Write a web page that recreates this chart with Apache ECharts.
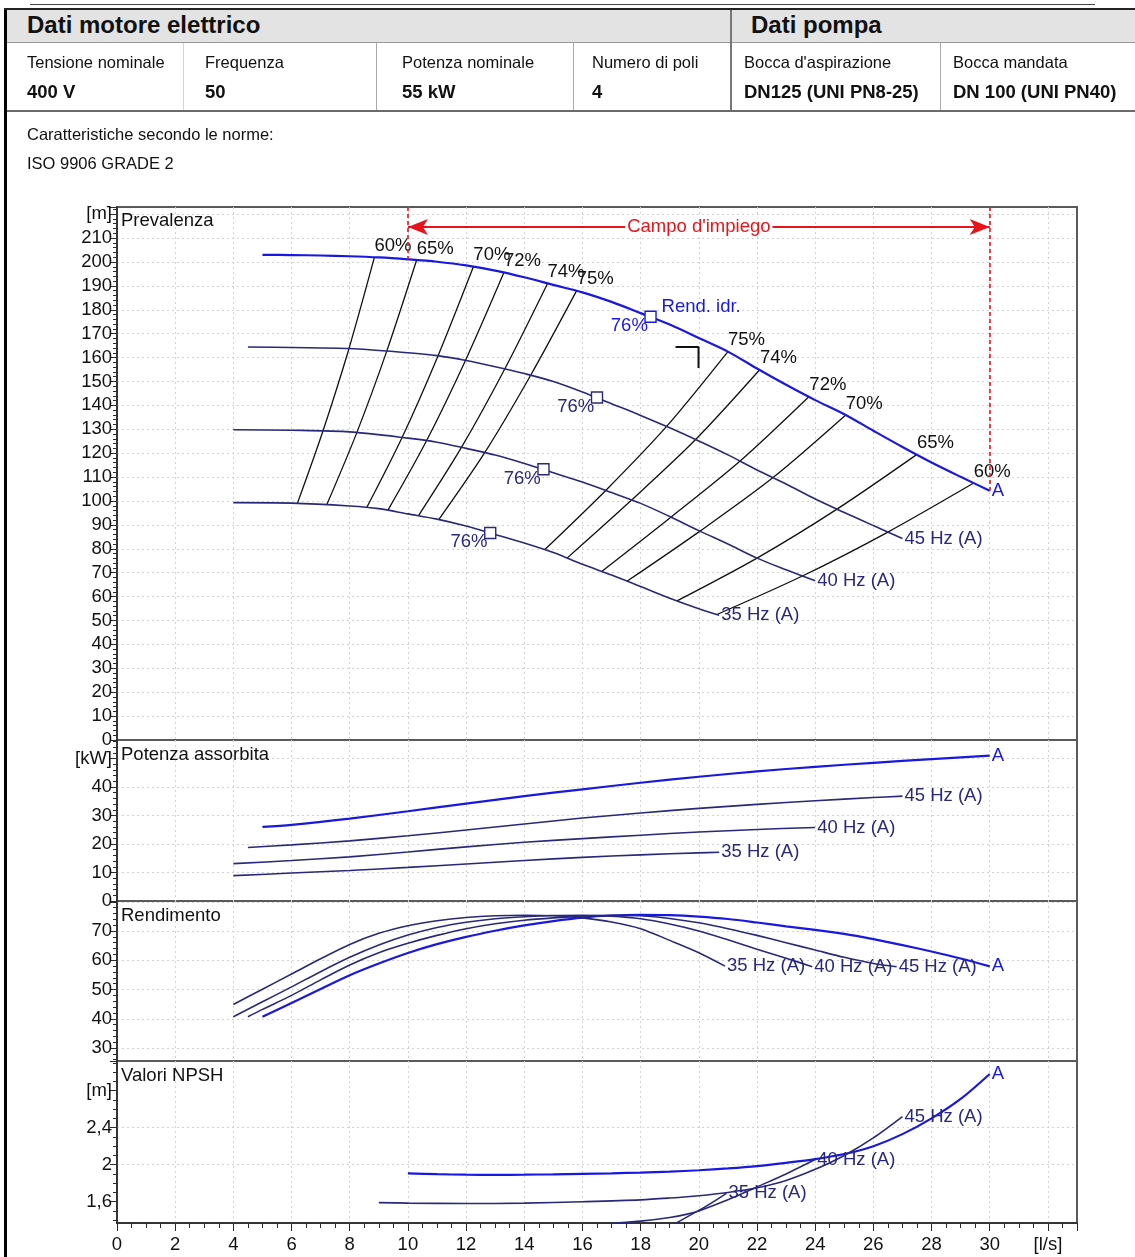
<!DOCTYPE html>
<html>
<head>
<meta charset="utf-8">
<script src="https://cdn.jsdelivr.net/npm/echarts@6/dist/echarts.min.js"></script>
<style>
  html, body { margin: 0; padding: 0; background: #fff; }
  body { width: 1135px; height: 1257px; position: relative; overflow: hidden;
         font-family: 'Liberation Sans', Arial, sans-serif; color: #111; }
  #chart { position: absolute; left: 0; top: 0; width: 1135px; height: 1257px; }
  #hdr { position: absolute; left: 0; top: 0; width: 1135px; height: 180px; z-index: 2; pointer-events: none; }
  .r { position: absolute; }
  .t { position: absolute; white-space: nowrap; line-height: 1.15; }
  .h1 { font-size: 24px; font-weight: bold; top: 11px; }
  .lb { font-size: 16.5px; top: 53px; }
  .vl { font-size: 18.5px; font-weight: bold; top: 81px; }
  .nt { font-size: 16.5px; left: 27px; }
</style>
</head>
<body>
<div id="chart"></div>
<div id="hdr">
  <div class="r" style="left:30px;top:4px;width:1065px;height:1px;background:#444"></div>
  <div class="r" style="left:4px;top:8px;width:3px;height:1249px;background:#000"></div>
  <div class="r" style="left:4px;top:8px;width:1131px;height:2px;background:#222"></div>
  <div class="r" style="left:7px;top:10px;width:1128px;height:32px;background:#e3e3e3"></div>
  <div class="r" style="left:7px;top:42px;width:1128px;height:1px;background:#999"></div>
  <div class="r" style="left:7px;top:110px;width:1128px;height:2px;background:#6b6b6b"></div>
  <div class="r" style="left:730px;top:10px;width:2px;height:100px;background:#777"></div>
  <div class="r" style="left:183px;top:43px;width:1px;height:67px;background:#d4d4d4"></div>
  <div class="r" style="left:376px;top:43px;width:1px;height:67px;background:#aaa"></div>
  <div class="r" style="left:573px;top:43px;width:1px;height:67px;background:#aaa"></div>
  <div class="r" style="left:940px;top:43px;width:1px;height:67px;background:#aaa"></div>

  <div class="t h1" style="left:27px">Dati motore elettrico</div>
  <div class="t h1" style="left:751px">Dati pompa</div>

  <div class="t lb" style="left:27px">Tensione nominale</div>
  <div class="t lb" style="left:205px">Frequenza</div>
  <div class="t lb" style="left:402px">Potenza nominale</div>
  <div class="t lb" style="left:592px">Numero di poli</div>
  <div class="t lb" style="left:744px">Bocca d'aspirazione</div>
  <div class="t lb" style="left:953px">Bocca mandata</div>

  <div class="t vl" style="left:27px">400 V</div>
  <div class="t vl" style="left:205px">50</div>
  <div class="t vl" style="left:402px">55 kW</div>
  <div class="t vl" style="left:592px">4</div>
  <div class="t vl" style="left:744px">DN125 (UNI PN8-25)</div>
  <div class="t vl" style="left:953px">DN 100 (UNI PN40)</div>

  <div class="t nt" style="top:125px">Caratteristiche secondo le norme:</div>
  <div class="t nt" style="top:154px">ISO 9906 GRADE 2</div>
</div>

<script>
// portata [l/s] e prevalenza [m]
const prevQ50 = [5, 6, 7, 8, 9, 10, 11, 12, 13, 14, 15, 16, 17, 18, 19, 20, 21, 22, 23, 24, 25, 26, 27, 28, 29, 30];
const prevH50 = [203.0, 202.9, 202.7, 202.4, 201.9, 201.1, 200.1, 198.6, 196.4, 193.6, 190.4, 187.3, 183.3, 178.6, 173.8, 168.2, 162.5, 155.4, 148.6, 142.2, 136.3, 129.4, 122.6, 116.1, 110.1, 104.3];
const prevQ45 = [4.5, 6, 8, 10, 11, 12, 13, 14, 15, 16, 17, 18, 19, 20, 21, 22, 23, 24, 25, 26, 27];
const prevH45 = [164.4, 164.2, 163.8, 162.0, 160.8, 158.8, 156.2, 153.3, 150.0, 145.6, 140.7, 135.8, 130.6, 125.1, 119.3, 113.0, 107.1, 100.8, 95.2, 89.7, 84.3];
const prevQ40 = [4, 6, 8, 10, 11, 12, 13, 14, 15, 16, 17, 18, 19, 20, 21, 22, 23, 24];
const prevH40 = [129.8, 129.6, 128.9, 126.3, 124.6, 122.0, 119.2, 115.7, 111.8, 107.9, 103.5, 99.0, 93.5, 87.6, 82.0, 76.1, 71.2, 66.6];
const prevQ35 = [4, 6, 8, 9, 10, 11, 12, 13, 14, 15, 16, 17, 18, 19, 20, 20.7];
const prevH35 = [99.3, 99.1, 97.9, 96.8, 94.6, 92.4, 89.5, 86.0, 82.4, 78.4, 73.5, 69.0, 64.2, 59.3, 54.9, 52.2];

// curve di isorendimento (punti su 50 / 45 / 40 / 35 Hz)
const isoNames = ['60%', '65%', '70%', '72%', '74%', '75%', '75%', '74%', '72%', '70%', '65%', '60%'];
const isoQ = [
    [8.85, 7.97, 7.08, 6.2],
    [10.3, 9.27, 8.24, 7.21],
    [12.25, 11.03, 9.8, 8.58],
    [13.3, 11.97, 10.64, 9.31],
    [14.8, 13.32, 11.84, 10.36],
    [15.8, 14.22, 12.64, 11.06],
    [21.0, 18.9, 16.8, 14.7],
    [22.1, 19.89, 17.68, 15.47],
    [23.8, 21.42, 19.04, 16.66],
    [25.05, 22.55, 20.04, 17.54],
    [27.5, 24.75, 22.0, 19.25],
    [29.45, 26.5, 23.56, 20.62]
];
const isoH = [
    [202.0, 163.6, 129.3, 99.0],
    [200.8, 162.6, 128.5, 98.4],
    [198.0, 160.6, 126.6, 97.2],
    [195.6, 158.6, 125.2, 96.1],
    [191.0, 155.0, 122.4, 93.8],
    [188.0, 152.6, 120.2, 92.2],
    [162.5, 131.3, 104.4, 79.6],
    [155.0, 125.7, 100.3, 76.1],
    [143.8, 116.7, 93.2, 70.5],
    [136.0, 109.8, 87.4, 66.5],
    [119.5, 96.6, 76.1, 58.2],
    [107.5, 87.0, 68.6, 52.5]
];

// punto di massimo rendimento (76%)
const bepQ = [18.34, 16.5, 14.66, 12.83];
const bepH = [177.1, 143.3, 113.3, 86.6];

// campo d'impiego
const campoQ = [10, 30];
const campoArrowH = 214.6;
const campoTopH = 223;
const campoEndH = [201.1, 104.3];
const cornerQ = [19.2, 19.99, 19.99];
const cornerH = [164.4, 164.4, 155.6];

// potenza assorbita [kW]
const potQ50 = [5, 6, 8, 10, 12, 14, 16, 18, 20, 22, 24, 26, 28, 30];
const pot50 = [26.0, 26.7, 28.9, 31.5, 34.2, 36.8, 39.2, 41.5, 43.6, 45.5, 47.1, 48.5, 49.8, 51.0];
const potQ45 = [4.5, 6, 8, 10, 12, 14, 16, 18, 20, 22, 24, 26, 27];
const pot45 = [18.8, 19.7, 21.1, 22.9, 24.9, 27.0, 29.1, 30.9, 32.5, 33.9, 35.2, 36.3, 36.8];
const potQ40 = [4, 6, 8, 10, 12, 14, 16, 18, 20, 22, 24];
const pot40 = [13.1, 14.2, 15.5, 17.2, 19.0, 20.6, 21.9, 23.1, 24.2, 25.1, 25.8];
const potQ35 = [4, 6, 8, 10, 12, 14, 16, 18, 20, 20.7];
const pot35 = [8.9, 9.8, 10.7, 11.8, 13.0, 14.2, 15.3, 16.2, 16.9, 17.1];

// rendimento [%]
const rendQ50 = [5, 6, 7, 8, 9, 10, 11, 12, 13, 14, 15, 16, 17, 18, 19, 20, 21, 22, 23, 24, 25, 26, 27, 28, 29, 30];
const rend50 = [40.7, 45.4, 50.2, 54.9, 58.9, 62.5, 65.5, 68.0, 70.1, 71.9, 73.4, 74.6, 75.3, 75.5, 75.4, 74.9, 74.1, 72.9, 71.6, 70.4, 69.0, 67.2, 65.2, 63.0, 60.6, 57.9];
const rendQ45 = [4.5, 5, 6, 7, 8, 9, 10, 11, 12, 13, 14, 15, 16, 17, 18, 19, 20, 21, 22, 23, 24, 25, 26, 26.8];
const rend45 = [40.7, 43.2, 48.0, 53.3, 58.4, 62.6, 65.8, 68.5, 70.8, 72.5, 73.7, 74.5, 75.1, 75.4, 75.2, 74.3, 72.8, 70.8, 68.5, 66.0, 63.5, 61.0, 58.9, 57.8];
const rendQ40 = [4, 5, 6, 7, 8, 9, 10, 11, 12, 13, 14, 15, 16, 17, 18, 19, 20, 21, 22, 23, 23.9];
const rend40 = [40.7, 45.8, 50.9, 56.1, 61.0, 65.2, 68.6, 71.2, 73.0, 74.2, 74.9, 75.3, 75.4, 75.1, 74.2, 72.4, 70.0, 67.0, 63.8, 60.7, 57.8];
const rendQ35 = [4, 5, 6, 7, 8, 9, 10, 11, 12, 13, 14, 15, 16, 17, 18, 19, 20, 20.9];
const rend35 = [44.9, 50.1, 55.3, 60.5, 65.4, 69.2, 71.8, 73.5, 74.6, 75.2, 75.4, 75.2, 74.5, 73.1, 70.8, 66.8, 62.6, 58.0];

// NPSH [m]
const npshQ50 = [10, 11, 12, 13, 14, 15, 16, 17, 18, 19, 20, 21, 22, 23, 24, 25, 26, 27, 28, 29, 30];
const npsh50 = [1.905, 1.897, 1.892, 1.890, 1.892, 1.896, 1.901, 1.907, 1.915, 1.925, 1.940, 1.960, 1.985, 2.020, 2.060, 2.115, 2.200, 2.330, 2.500, 2.710, 2.980];
const npshQ45 = [9, 10, 12, 14, 16, 18, 19, 20, 21, 22, 23, 24, 25, 26, 27];
const npsh45 = [1.590, 1.585, 1.580, 1.585, 1.600, 1.620, 1.640, 1.665, 1.700, 1.750, 1.830, 1.950, 2.100, 2.290, 2.520];
const npshQ40 = [15.5, 17, 18, 19, 19.6, 20, 21, 22, 23, 24];
const npsh40 = [1.330, 1.365, 1.390, 1.430, 1.466, 1.500, 1.620, 1.760, 1.900, 2.055];
const npshQ35 = [19.0, 19.6, 20.3, 20.95];
const npsh35 = [1.330, 1.436, 1.560, 1.690];

const npshLabelTicks = [1.6, 2, 2.4, 2.8];
const npshMinorTicks = [1.4, 1.5, 1.6, 1.7, 1.8, 1.9, 2.0, 2.1, 2.2, 2.3, 2.4, 2.5, 2.6, 2.7, 2.8, 2.9, 3.0, 3.1];

const FONT = "'Liberation Sans', Arial, sans-serif";
const FS = 18.5;
const BLUE = '#1818e2';
const NAVY = '#28287c';
const RED = '#e8141b';
const INK = '#111';

const ext = Object.assign;
const zip = (q, v) => q.map((x, i) => [x, v[i]]);
const txt = (color) => ({color: color || INK, fontSize: FS, fontFamily: FONT});

function curve(q, v, name, color, width, gi) {
    return {
        type: 'line',
        xAxisIndex: gi,
        yAxisIndex: gi,
        data: zip(q, v),
        smooth: 0.3,
        showSymbol: false,
        silent: true,
        lineStyle: {color: color, width: width},
        endLabel: ext({show: true, formatter: name, distance: 2}, txt(color))
    };
}

function family(gi, list) {
    return [
        curve(list[0][0], list[0][1], 'A', BLUE, 2.2, gi),
        curve(list[1][0], list[1][1], '45 Hz (A)', NAVY, 1.6, gi),
        curve(list[2][0], list[2][1], '40 Hz (A)', NAVY, 1.6, gi),
        curve(list[3][0], list[3][1], '35 Hz (A)', NAVY, 1.6, gi)
    ];
}

const gridBox = {left: 117, width: 960, show: true, borderColor: '#5a5a5a', borderWidth: 2};
const splitDots = {show: true, showMinLine: false, showMaxLine: false,
    lineStyle: {color: '#d2d2d2', width: 1, type: [2, 3]}};
const axLine = {show: true, lineStyle: {color: '#2a2a2a', width: 1.5}};
const tickStyle = {color: '#2a2a2a', width: 1};

function xAx(gi, bottom) {
    return {
        type: 'value', gridIndex: gi, min: 0, max: 33, interval: 2,
        axisLine: bottom ? axLine : {show: false},
        axisTick: {show: bottom, length: 8, lineStyle: tickStyle},
        minorTick: {show: bottom, splitNumber: 4, length: 5, lineStyle: tickStyle},
        axisLabel: ext({
            show: bottom, margin: 12,
            formatter: v => v === 32 ? '[l/s]' : (v % 2 === 0 && v <= 30 ? String(v) : '')
        }, txt()),
        splitLine: splitDots
    };
}

function yAx(gi, cfg) {
    return ext({
        type: 'value', gridIndex: gi, position: 'left',
        axisLine: axLine,
        axisTick: {show: true, length: 7, lineStyle: tickStyle},
        minorTick: {show: true, splitNumber: 5, length: 4, lineStyle: tickStyle},
        splitLine: splitDots
    }, cfg);
}

// punto invisibile che porta solo un'etichetta
function labelOnly(points, label, z) {
    return {
        type: 'scatter', xAxisIndex: 0, yAxisIndex: 0, silent: true, z: z || 5,
        symbolSize: 1, itemStyle: {color: 'rgba(0,0,0,0)', opacity: 1},
        data: points,
        label: ext({show: true}, label)
    };
}

const chart = echarts.init(document.getElementById('chart'), null, {renderer: 'canvas'});

const isoSeries = isoQ.map((q, i) => ({
    type: 'line', xAxisIndex: 0, yAxisIndex: 0,
    data: zip(q, isoH[i]), smooth: 0.3, showSymbol: false, silent: true,
    lineStyle: {color: INK, width: 1.3}
}));

const option = {
    animation: false,
    title: [
        {text: 'Prevalenza', left: 121, top: 211},
        {text: 'Potenza assorbita', left: 121, top: 745},
        {text: 'Rendimento', left: 121, top: 906},
        {text: 'Valori NPSH', left: 121, top: 1066}
    ].map(t => ext(t, {padding: 0, textStyle: ext({fontWeight: 'normal'}, txt())})),
    grid: [
        ext({top: 207, height: 533}, gridBox),
        ext({top: 740, height: 161}, gridBox),
        ext({top: 901, height: 160}, gridBox),
        ext({top: 1061, height: 162}, gridBox)
    ],
    xAxis: [xAx(0, false), xAx(1, false), xAx(2, false), xAx(3, true)],
    yAxis: [
        yAx(0, {min: 0, max: 223, interval: 10,
            axisLabel: ext({margin: 5, formatter: v => v === 220 ? '[m]' : (v <= 210 && v % 10 === 0 ? String(v) : '')}, txt())}),
        yAx(1, {min: 0, max: 56.5, interval: 10,
            axisLabel: ext({margin: 5, formatter: v => v === 50 ? '[kW]' : (v <= 40 && v % 10 === 0 ? String(v) : '')}, txt())}),
        yAx(2, {min: 25.56, max: 80.26, splitNumber: 5,
            axisLabel: ext({margin: 5, formatter: v => (v >= 30 && v <= 70 && Math.abs(v % 10) < 1e-6) ? String(v) : ''}, txt())}),
        yAx(3, {min: 1.37, max: 3.12, splitNumber: 9,
            axisTick: {show: true, length: 7, customValues: npshLabelTicks, lineStyle: tickStyle},
            minorTick: {show: false},
            axisLabel: ext({margin: 5, customValues: npshLabelTicks,
                formatter: v => Math.abs(v - 2.8) < 1e-6 ? '[m]' : String(+v.toFixed(1)).replace('.', ',')}, txt())}),
        yAx(3, {min: 1.37, max: 3.12, splitNumber: 9,
            axisLine: {show: false},
            axisTick: {show: true, length: 4, customValues: npshMinorTicks, lineStyle: tickStyle},
            minorTick: {show: false},
            axisLabel: {show: false},
            splitLine: {show: false}})
    ],
    series: [].concat(
        isoSeries,
        family(0, [[prevQ50, prevH50], [prevQ45, prevH45], [prevQ40, prevH40], [prevQ35, prevH35]]),
        family(1, [[potQ50, pot50], [potQ45, pot45], [potQ40, pot40], [potQ35, pot35]]),
        family(2, [[rendQ50, rend50], [rendQ45, rend45], [rendQ40, rend40], [rendQ35, rend35]]),
        family(3, [[npshQ50, npsh50], [npshQ45, npsh45], [npshQ40, npsh40], [npshQ35, npsh35]]),
        [
            // etichette isorendimento
            labelOnly(isoQ.map((q, i) => ({value: [q[0], isoH[i][0]], name: isoNames[i]})),
                ext({formatter: '{b}', position: 'top', align: 'left', distance: 1.5}, txt()), 4),
            {   // massimo rendimento
                type: 'scatter', xAxisIndex: 0, yAxisIndex: 0, silent: true, z: 5,
                symbol: 'rect', symbolSize: 11,
                data: bepQ.map((q, i) => {
                    const c = i === 0 ? BLUE : NAVY;
                    return {
                        value: [q, bepH[i]],
                        itemStyle: {color: '#fff', borderColor: c, borderWidth: 1.4, opacity: 1},
                        label: {color: c}
                    };
                }),
                itemStyle: {opacity: 1},
                label: ext({show: true, formatter: '76%', position: [3.5, 15.5], align: 'right', verticalAlign: 'middle'}, txt())
            },
            labelOnly([[bepQ[0], bepH[0]]],
                ext({formatter: 'Rend. idr.', position: [11.5, -9.5], align: 'left', verticalAlign: 'middle'}, txt(BLUE))),
            {   // campo d'impiego
                type: 'line', xAxisIndex: 0, yAxisIndex: 0, data: [], silent: true, z: 3,
                markLine: {
                    silent: true, animation: false,
                    symbol: ['none', 'none'],
                    label: {show: false},
                    data: [
                        [{coord: [campoQ[0], campoArrowH], symbol: 'arrow', symbolSize: [12, 20]},
                         {coord: [campoQ[1], campoArrowH], symbol: 'arrow', symbolSize: [12, 20]}],
                        [{coord: [campoQ[0], campoTopH]}, {coord: [campoQ[0], campoEndH[0]]}],
                        [{coord: [campoQ[1], campoTopH]}, {coord: [campoQ[1], campoEndH[1]]}]
                    ].map((d, i) => {
                        d[0].lineStyle = {color: RED, width: i === 0 ? 2 : 1.6, type: i === 0 ? 'solid' : [4, 3]};
                        d[0].itemStyle = {color: RED};
                        return d;
                    })
                }
            },
            labelOnly([[(campoQ[0] + campoQ[1]) / 2, campoArrowH]],
                ext({formatter: "Campo d'impiego", position: 'inside', backgroundColor: '#fff', padding: [0, 2]}, txt(RED)), 6),
            {
                type: 'line', xAxisIndex: 0, yAxisIndex: 0, silent: true,
                data: zip(cornerQ, cornerH), showSymbol: false,
                lineStyle: {color: INK, width: 2}
            }
        ]
    )
};

chart.setOption(option);
</script>
</body>
</html>
